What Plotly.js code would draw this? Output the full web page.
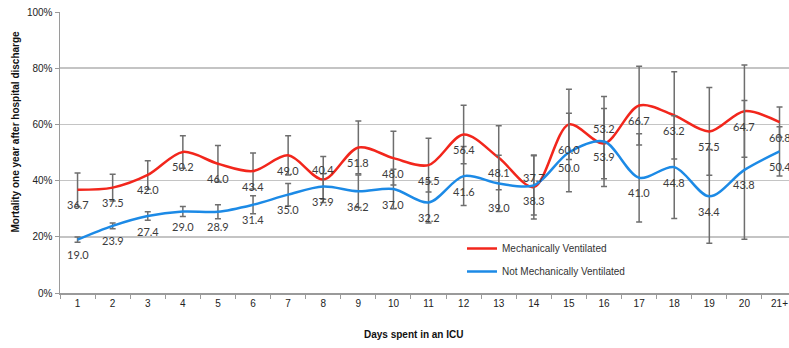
<!DOCTYPE html>
<html>
<head>
<meta charset="utf-8">
<script src="https://cdn.plot.ly/plotly-3.0.1.min.js"></script>
<style>html,body{margin:0;padding:0;background:#fff;}#chart{width:789px;height:348px;}</style>
</head>
<body>
<div id="chart"></div>
<script>
var days = ['1','2','3','4','5','6','7','8','9','10','11','12','13','14','15','16','17','18','19','20','21+'];
var mvValues = [36.7,37.5,42.0,50.2,46.0,43.4,49.0,40.4,51.8,48.0,45.5,56.4,48.1,37.7,60.0,53.2,66.7,63.2,57.5,64.7,60.8];
var mvErrors = [6.0,4.8,5.1,5.8,6.5,6.4,7.0,8.2,9.4,9.6,9.6,10.4,11.4,11.4,12.5,12.5,14.0,15.5,15.6,16.4,5.4];
var nmvValues = [19.0,23.9,27.4,29.0,28.9,31.4,35.0,37.9,36.2,37.0,32.2,41.6,39.0,38.3,50.0,53.9,41.0,44.8,34.4,43.8,50.4];
var nmvErrors = [0.9,1.0,1.5,1.8,2.5,3.2,4.0,4.5,5.8,7.0,7.3,10.5,10.0,10.5,14.0,16.0,15.7,18.3,16.7,24.7,8.8];
var seriesNames = ['Mechanically Ventilated','Not Mechanically Ventilated'];

// label placement (pixels, layout only)
var mvLabelShift = {7: 10, 13: 10, 15: 15, 14: -25};
var nmvLabelShift = {12: -24};

var errStyle = {type:'data', visible:true, color:'#6e6e6e', thickness:1.5, width:3};

function errs(arr){ var e = Object.assign({}, errStyle); e.array = arr; return e; }

var traces = [
  {x: days, y: mvValues, name: seriesNames[0], type:'scatter', mode:'lines',
   line:{color:'#f2261c', width:2.5, shape:'spline', smoothing:0.9},
   error_y: errs(mvErrors), legendgroup:'a', hoverinfo:'skip'},
  {x: days, y: nmvValues, name: seriesNames[1], type:'scatter', mode:'lines',
   line:{color:'#1c8ae6', width:2.5, shape:'spline', smoothing:0.9},
   error_y: errs(nmvErrors), legendgroup:'b', hoverinfo:'skip'}
];

var annotations = [];
function addLabels(vals, shifts){
  vals.forEach(function(v, i){
    annotations.push({x: i, y: v, xref:'x', yref:'y', text: v.toFixed(1),
      showarrow:false, yshift: (shifts[i] !== undefined ? shifts[i] : -15),
      font:{family:'Lato, "Open Sans", sans-serif', size:11, color:'#3c3c3c'}});
  });
}
addLabels(mvValues, mvLabelShift);
addLabels(nmvValues, nmvLabelShift);

annotations.push({text:'<b>Days spent in an ICU</b>', xref:'paper', yref:'paper',
  x:(413-60)/729, y:-(334-293)/281, xanchor:'center', yanchor:'middle', showarrow:false,
  font:{family:'Liberation Sans, Arial, sans-serif', size:10, color:'#111'}});
annotations.push({text:'<b>Mortality one year after hospital discharge</b>', xref:'paper', yref:'paper',
  x:-(60-15)/729, y:(293-131.5)/281, xanchor:'center', yanchor:'middle', showarrow:false, textangle:-90,
  font:{family:'Liberation Sans, Arial, sans-serif', size:10, color:'#111'}});

var layout = {
  width:789, height:348,
  margin:{l:60, r:0, t:12, b:55},
  paper_bgcolor:'#fff', plot_bgcolor:'#fff',
  showlegend:true,
  legend:{x:(462-60)/729, y:(293-234)/281, xanchor:'left', yanchor:'top', bgcolor:'rgba(0,0,0,0)',
    traceorder:'grouped', tracegroupgap:4,
    font:{family:'Liberation Sans, Arial, sans-serif', size:10, color:'#333'}},
  xaxis:{type:'category', range:[-0.5, 20.27], tickson:'boundaries', ticks:'outside', ticklen:4,
    tickcolor:'#9a9a9a', tickwidth:1, showline:true, linecolor:'#9a9a9a', linewidth:1.5,
    showgrid:false, zeroline:false, fixedrange:true,
    tickfont:{family:'Liberation Sans, Arial, sans-serif', size:10, color:'#222'}},
  yaxis:{range:[0,100], dtick:20, tick0:0, ticksuffix:'%', ticks:'outside', ticklen:4,
    tickcolor:'#9a9a9a', showline:true, linecolor:'#9a9a9a', linewidth:1.5,
    showgrid:true, gridcolor:'#c4c4c4', gridwidth:1.5, zeroline:false, fixedrange:true,
    tickfont:{family:'Liberation Sans, Arial, sans-serif', size:10, color:'#222'}},
  annotations: annotations
};

Plotly.newPlot('chart', traces, layout, {staticPlot:true, displayModeBar:false});
</script>
</body>
</html>
